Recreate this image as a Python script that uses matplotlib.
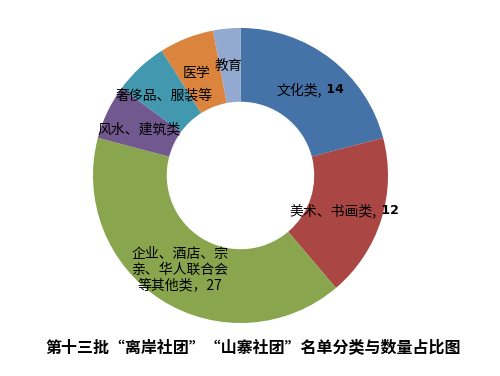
import matplotlib
matplotlib.use("Agg")
import matplotlib.pyplot as plt

plt.rcParams["font.family"] = ["Noto Sans CJK SC", "DejaVu Sans"]

# Category names and counts, clockwise from 12 o'clock
categories = ["文化类", "美术、书画类", "企业、酒店、宗\n亲、华人联合会\n等其他类",
              "风水、建筑类", "奢侈品、服装等", "医学", "教育"]
counts = [14, 12, 27, 4, 4, 4, 2]
colors = ["#4572A7", "#AA4643", "#89A54E", "#71588F", "#4198AF", "#DB843D", "#93A9CF"]

# label text placement (axes data units, pie radius = 1)
label_pos = [(0.40, 0.58), (0.63, -0.24), (-0.41, -0.64), (-0.69, 0.31),
             (-0.52, 0.54), (-0.295, 0.695), (-0.08, 0.745)]
show_value = [True, True, True, False, False, False, False]
bold_value = [True, True, False, False, False, False, False]

TITLE = "第十三批“离岸社团”“山寨社团”名单分类与数量占比图"

fig = plt.figure(figsize=(5.0, 3.76), dpi=100)
ax = fig.add_axes([0.186, 0.141, 0.59, 0.7846])
ax.pie(counts, colors=colors, startangle=90, counterclock=False, radius=1.0,
       wedgeprops=dict(width=0.5, linewidth=0))
ax.set_xlim(-1, 1)
ax.set_ylim(-1, 1)
ax.axis("off")

for i, name in enumerate(categories):
    x, y = label_pos[i]
    if show_value[i] and bold_value[i]:
        t = ax.text(x, y, name + ",", ha="center", va="center", fontsize=10, color="#000000")
        ax.annotate(f" {counts[i]}", xy=(1, 0.5), xycoords=t, ha="left", va="center",
                    fontsize=9, fontweight="bold", family=["DejaVu Sans"])
    elif show_value[i]:
        ax.text(x, y, f"{name}，{counts[i]}", ha="center", va="center", fontsize=10,
                linespacing=1.15, color="#000000")
    else:
        ax.text(x, y, name, ha="center", va="center", fontsize=10, color="#000000")

fig.text(0.506, 0.075, TITLE, ha="center", va="center", fontsize=11.5,
         fontweight="bold", color="#000000")

fig.savefig("out.png", dpi=100)
